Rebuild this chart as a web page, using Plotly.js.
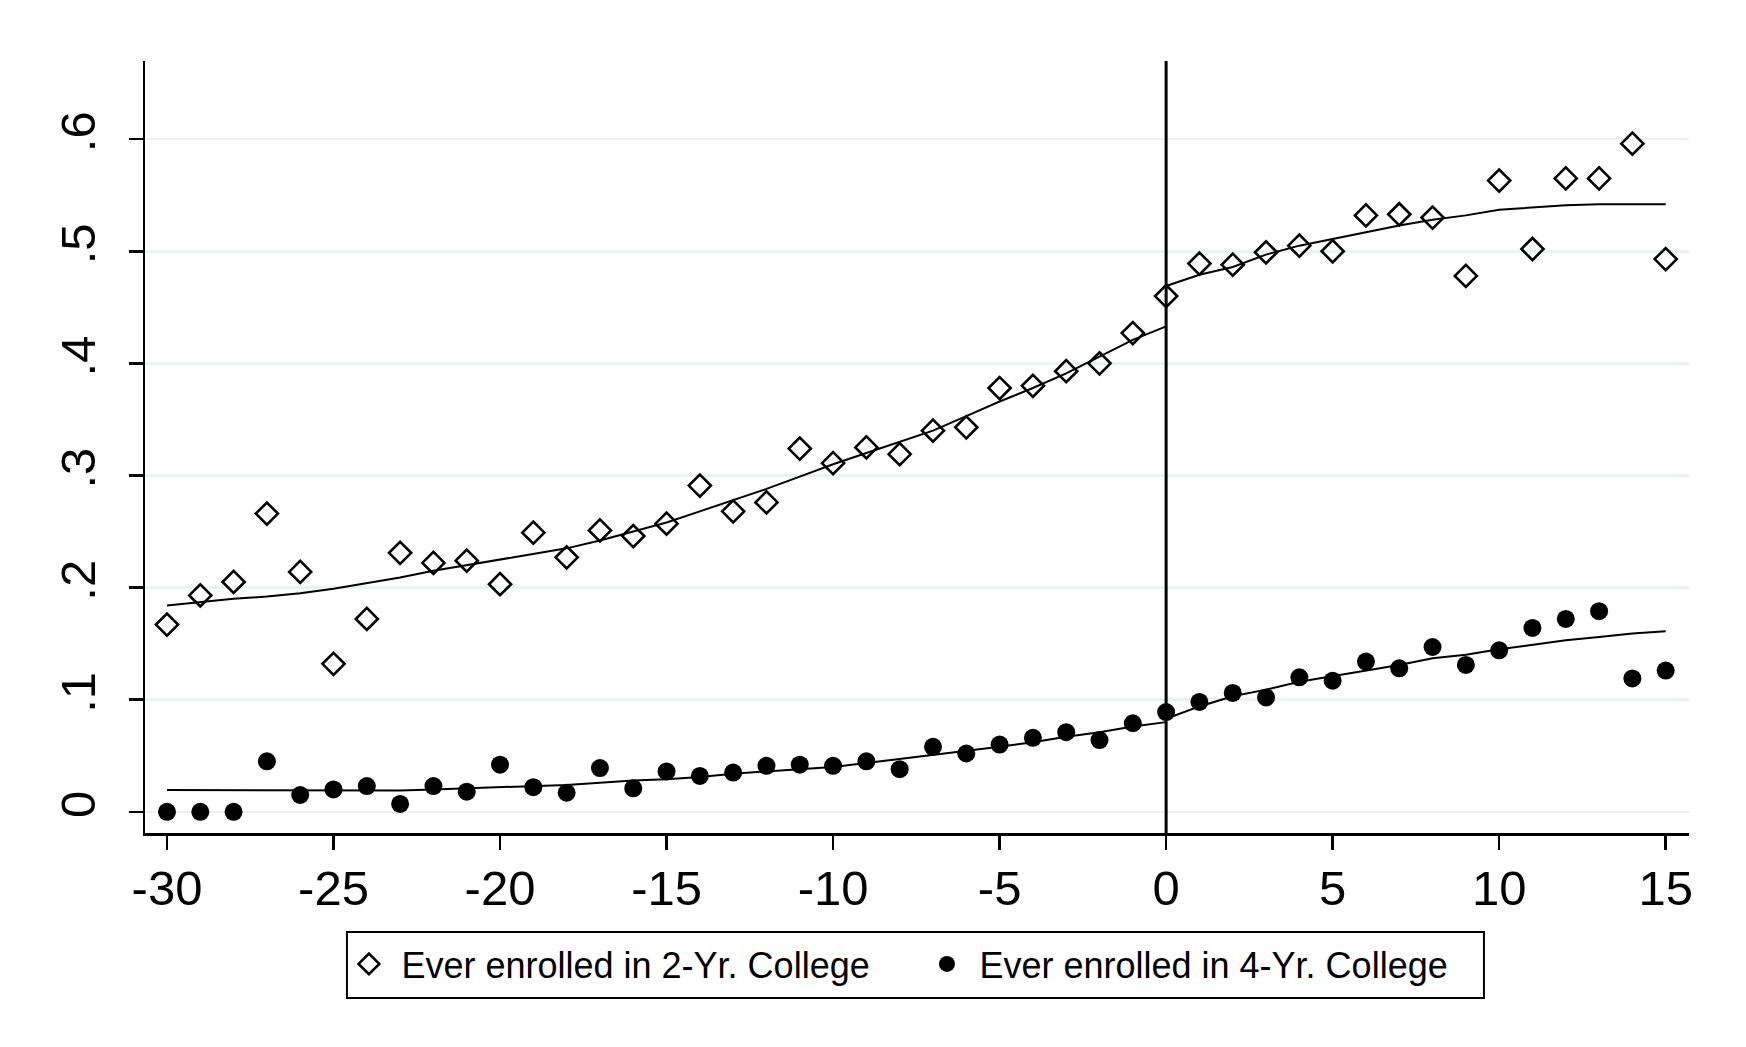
<!DOCTYPE html>
<html>
<head>
<meta charset="utf-8">
<script src="https://cdn.plot.ly/plotly-3.0.1.min.js"></script>
<style>
html,body{margin:0;padding:0;background:#ffffff;}
#chart{width:1746px;height:1047px;}
</style>
</head>
<body>
<div id="chart"></div>
<script>
// ---- data ----
const relYear = [-30,-29,-28,-27,-26,-25,-24,-23,-22,-21,-20,-19,-18,-17,-16,-15,-14,-13,-12,-11,-10,-9,-8,-7,-6,-5,-4,-3,-2,-1,0,1,2,3,4,5,6,7,8,9,10,11,12,13,14,15];

const twoYear = [0.167,0.193,0.205,0.266,0.214,0.132,0.172,0.231,0.222,0.224,
                 0.203,0.249,0.227,0.251,0.246,0.257,0.291,0.268,0.276,0.324,
                 0.311,0.325,0.319,0.340,0.343,0.378,0.380,0.393,0.400,0.427,
                 0.460,0.489,0.488,0.499,0.505,0.500,0.532,0.533,0.530,0.478,
                 0.563,0.502,0.565,0.565,0.596,0.493];

const fourYear = [0.000,0.000,0.000,0.045,0.015,0.020,0.023,0.007,0.023,0.018,
                  0.042,0.022,0.017,0.039,0.021,0.036,0.032,0.035,0.041,0.042,
                  0.041,0.045,0.038,0.058,0.052,0.060,0.066,0.071,0.064,0.079,
                  0.089,0.098,0.106,0.102,0.120,0.117,0.134,0.128,0.147,0.131,
                  0.144,0.164,0.172,0.179,0.119,0.126];

const fitLeftX  = [-30,-29,-28,-27,-26,-25,-24,-23,-22,-21,-20,-19,-18,-17,-16,-15,-14,-13,-12,-11,-10,-9,-8,-7,-6,-5,-4,-3,-2,-1,0];
const fitRightX = [0,1,2,3,4,5,6,7,8,9,10,11,12,13,14,15];

const twoYearFitLeft  = [0.184,0.187,0.190,0.192,0.195,0.199,0.204,0.209,0.215,0.220,
                         0.225,0.230,0.235,0.242,0.250,0.258,0.268,0.278,0.288,0.299,
                         0.310,0.320,0.330,0.340,0.353,0.366,0.378,0.391,0.406,0.421,0.433];
const twoYearFitRight = [0.469,0.479,0.486,0.497,0.505,0.511,0.517,0.523,0.528,0.532,
                         0.537,0.539,0.541,0.542,0.542,0.542];

const fourYearFitLeft  = [0.0195,0.0195,0.019,0.019,0.019,0.019,0.019,0.019,0.020,0.021,
                          0.022,0.023,0.024,0.026,0.028,0.029,0.031,0.034,0.036,0.038,
                          0.040,0.0435,0.047,0.051,0.054,0.058,0.062,0.067,0.071,0.076,0.080];
const fourYearFitRight = [0.083,0.094,0.103,0.109,0.116,0.121,0.126,0.131,0.137,0.140,
                          0.145,0.149,0.153,0.156,0.159,0.161];

const cutoff = 0;
const seriesNames = ["Ever enrolled in 2-Yr. College", "Ever enrolled in 4-Yr. College"];

const xTickVals = [-30,-25,-20,-15,-10,-5,0,5,10,15];
const xTickText = ["-30","-25","-20","-15","-10","-5","0","5","10","15"];
const yTickVals = [0,0.1,0.2,0.3,0.4,0.5,0.6];
const yTickText = ["0",".1",".2",".3",".4",".5",".6"];

// ---- traces ----
const lineStyle = {color:'#000000', width:2};
const traces = [
  {x: fitLeftX,  y: twoYearFitLeft,  mode:'lines', line: lineStyle, showlegend:false, hoverinfo:'skip'},
  {x: fitRightX, y: twoYearFitRight, mode:'lines', line: lineStyle, showlegend:false, hoverinfo:'skip'},
  {x: fitLeftX,  y: fourYearFitLeft,  mode:'lines', line: lineStyle, showlegend:false, hoverinfo:'skip'},
  {x: fitRightX, y: fourYearFitRight, mode:'lines', line: lineStyle, showlegend:false, hoverinfo:'skip'},
  {x: relYear, y: twoYear, name: seriesNames[0], mode:'markers', type:'scatter',
   marker:{symbol:'diamond-open', size:17, color:'#000000', line:{color:'#000000', width:2.6}}},
  {x: relYear, y: fourYear, name: seriesNames[1], mode:'markers', type:'scatter',
   marker:{symbol:'circle', size:18, color:'#000000', line:{width:0}}}
];

const layout = {
  width: 1746, height: 1047,
  margin: {l:145, r:57, t:61, b:214, pad:0},
  paper_bgcolor:'#ffffff', plot_bgcolor:'#ffffff',
  font: {family:'"Liberation Sans", Arial, Helvetica, sans-serif', color:'#000000'},
  showlegend: true,
  xaxis: {
    range: [-30.66, 15.70],
    tickmode:'array', tickvals: xTickVals, ticktext: xTickText,
    ticks:'outside', ticklen:14, tickwidth:2.5, tickcolor:'#000000',
    showline:true, linewidth:2.5, linecolor:'#000000',
    showgrid:false, zeroline:false,
    tickfont:{size:49, color:'#000000'},
    ticklabelstandoff: -3
  },
  yaxis: {
    range: [-0.0189, 0.6697],
    tickmode:'array', tickvals: yTickVals, ticktext: yTickText,
    tickangle: -90,
    ticks:'outside', ticklen:14, tickwidth:2.5, tickcolor:'#000000',
    showline:true, linewidth:2.5, linecolor:'#000000',
    showgrid:true, gridcolor:'rgb(234,242,243)', gridwidth:2.5,
    zeroline:false,
    tickfont:{size:49, color:'#000000'},
    ticklabelstandoff: 14
  },
  shapes: [
    {type:'line', xref:'x', yref:'paper', x0:cutoff, x1:cutoff, y0:0, y1:1,
     line:{color:'#000000', width:3}, layer:'above'},
    // legend frame
    {type:'rect', xref:'paper', yref:'paper', x0:0.1308, x1:0.8672, y0:-0.1282, y1:-0.2137,
     line:{color:'#000000', width:2}, fillcolor:'rgba(0,0,0,0)', layer:'above'}
  ],
  legend: {
    orientation:'h', x:0.124, y:-0.1308, xanchor:'left', yanchor:'top',
    borderwidth:0, bgcolor:'rgba(0,0,0,0)',
    font:{size:36, color:'#000000'},
    itemwidth: 55,
    entrywidth: 508, entrywidthmode:'pixels',
    itemclick:false, itemdoubleclick:false
  }
};

Plotly.newPlot('chart', traces, layout, {displayModeBar:false, staticPlot:true});
</script>
</body>
</html>
